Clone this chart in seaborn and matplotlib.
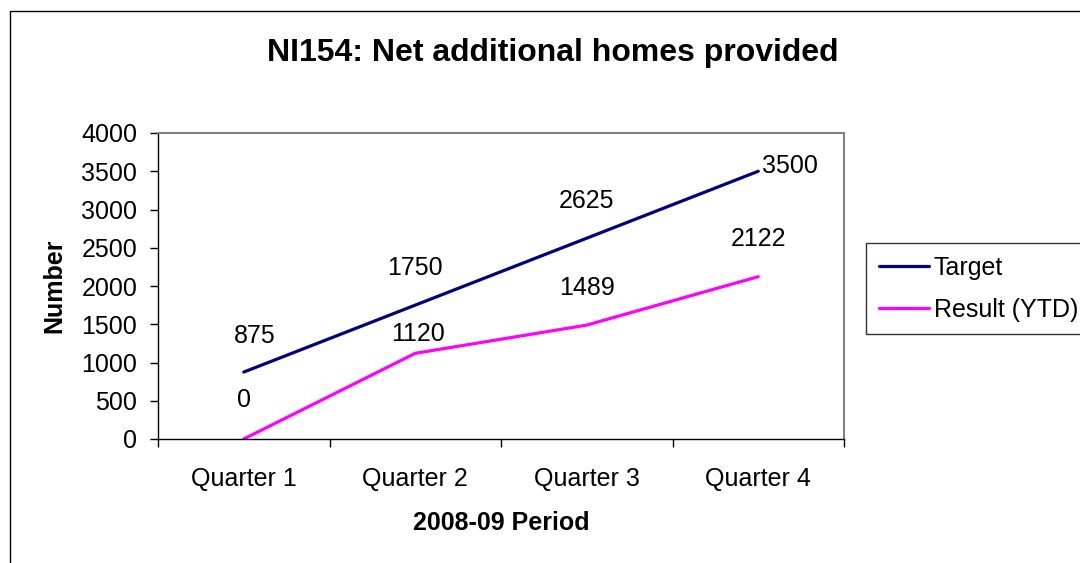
import matplotlib.pyplot as plt
import matplotlib.patches as mpatches
from matplotlib.ticker import FixedLocator, NullFormatter
import seaborn as sns
import pandas as pd

quarters = ['Quarter 1', 'Quarter 2', 'Quarter 3', 'Quarter 4']
target = [875, 1750, 2625, 3500]
result_ytd = [0, 1120, 1489, 2122]

if __name__ == '__main__':
    sns.set_style('white')
    plt.rcParams['font.family'] = ['Liberation Sans', 'DejaVu Sans']
    plt.rcParams['text.color'] = 'black'
    plt.rcParams['axes.labelcolor'] = 'black'
    plt.rcParams['xtick.color'] = 'black'
    plt.rcParams['ytick.color'] = 'black'

    data = pd.DataFrame({
        'Quarter': quarters * 2,
        'Number': target + result_ytd,
        'Series': ['Target'] * 4 + ['Result (YTD)'] * 4,
    })

    fig = plt.figure(figsize=(10.8, 5.63), dpi=100)
    ax = fig.add_axes([158 / 1080, 1 - 439 / 563, 686 / 1080, 306 / 563])

    sns.lineplot(x='Quarter', y='Number', hue='Series', data=data, ax=ax,
                 palette={'Target': '#000080', 'Result (YTD)': '#FF00FF'},
                 linewidth=2.3, sort=False)

    ax.set_xlim(-0.5, 3.5)
    ax.set_ylim(0, 4000)
    ax.set_yticks(range(0, 4001, 500))
    ax.xaxis.set_major_locator(FixedLocator([-0.5, 0.5, 1.5, 2.5, 3.5]))
    ax.xaxis.set_major_formatter(NullFormatter())
    ax.xaxis.set_minor_locator(FixedLocator([0, 1, 2, 3]))
    ax.set_xticklabels(quarters, minor=True)
    ax.tick_params(axis='x', which='major', direction='out', length=6, width=1, color='black', bottom=True)
    ax.tick_params(axis='x', which='minor', length=0, labelsize=18, pad=20)
    ax.tick_params(axis='y', direction='out', length=6, width=1, color='black', left=True, labelsize=18, pad=9)

    for side in ['left', 'bottom']:
        ax.spines[side].set_color('black')
        ax.spines[side].set_linewidth(1)
    for side in ['top', 'right']:
        ax.spines[side].set_color('#808080')
        ax.spines[side].set_linewidth(1.5)

    # data labels
    t_off = [(8, 26), (0, 27), (0, 27), (23, 4)]
    r_off = [(0, 28), (2, 14), (0, 27), (0, 27)]
    for i, v in enumerate(target):
        ax.annotate(str(v), (i, v), xytext=t_off[i], textcoords='offset points',
                    ha='center', va='center', fontsize=18)
    for i, v in enumerate(result_ytd):
        ax.annotate(str(v), (i, v), xytext=r_off[i], textcoords='offset points',
                    ha='center', va='center', fontsize=18)

    ax.set_xlabel('2008-09 Period', fontsize=18, fontweight='bold')
    ax.set_ylabel('Number', fontsize=18, fontweight='bold')
    ax.xaxis.label.set_va('center')
    ax.yaxis.label.set_va('center')
    ax.xaxis.set_label_coords(0.5, (439 - 523) / 306)
    ax.yaxis.set_label_coords((54 - 158) / 686, 0.5)
    fig.text(553 / 1080, 1 - 53 / 563, 'NI154: Net additional homes provided',
             ha='center', va='center', fontsize=23, fontweight='bold')

    leg = ax.legend(loc='upper left', bbox_to_anchor=(866 / 1080, 1 - 243 / 563),
                    bbox_transform=fig.transFigure, frameon=True, fancybox=False,
                    fontsize=18, handlelength=2.0, handletextpad=0.2,
                    borderpad=0.5, labelspacing=0.72, borderaxespad=0)
    leg.get_frame().set_edgecolor('black')
    leg.get_frame().set_linewidth(1)
    for line in leg.get_lines():
        line.set_linewidth(2.3)

    # chart area border
    fig.patches.append(mpatches.Rectangle((10 / 1080, -0.1), 1.2, 1 - 11 / 563 + 0.1,
                                          transform=fig.transFigure, fill=False,
                                          edgecolor='black', linewidth=1))

    plt.savefig('out.png', dpi=100)
